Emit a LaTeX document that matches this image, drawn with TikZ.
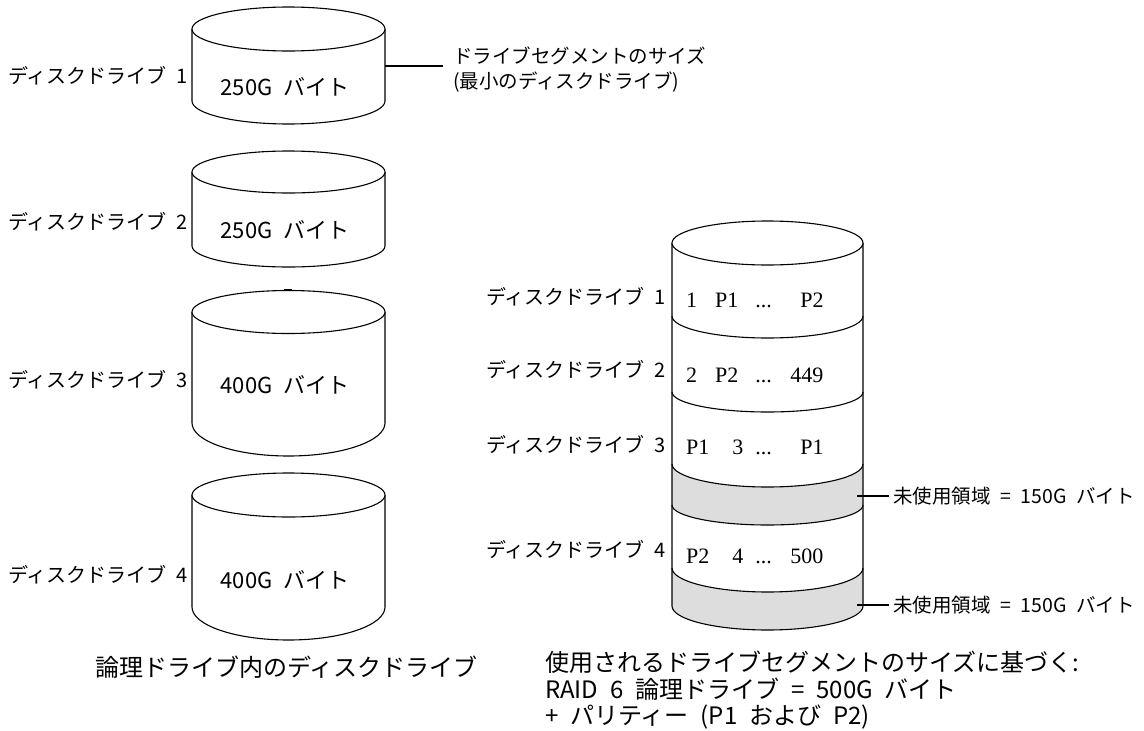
\documentclass[tikz,border=0pt]{standalone}
\usepackage{fontspec}
\setmainfont{Noto Sans CJK JP}[WordSpace=2.2]
\newfontfamily\segserif{Liberation Serif}
\definecolor{unusedgray}{RGB}{221,221,221}
\newcommand\drawcyl[6]{%
  \filldraw[cylline, fill=white] (#1-#2,#4) -- (#1-#2,#5)
     arc[start angle=180, end angle=0, x radius=#2, y radius=#6] -- (#1+#2,#4);
  \filldraw[cylline, fill=white] (#1,#4) ellipse[x radius=#2, y radius=#3];
}
\begin{document}
\begin{tikzpicture}[x=1pt, y=-1pt,
  cylline/.style={draw=black, line width=1.1pt},
  leader/.style={draw=black, line width=1.1pt},
  lbl/.style={font=\fontsize{20}{24}\selectfont, inner sep=0pt, anchor=east},
  ctext/.style={font=\fontsize{22}{26}\selectfont, inner sep=0pt},
  captext/.style={font=\fontsize{24}{26.5}\selectfont, inner sep=0pt, align=left},
  segtext/.style={font=\segserif\fontsize{22}{26}\selectfont, inner sep=0pt, anchor=west},
  notetext/.style={font=\fontsize{19.5}{25}\selectfont, inner ysep=0pt, anchor=west, align=left}
]
\useasboundingbox (0,0) rectangle (1144,731);

% ---------- left: four drives ----------
\drawcyl{288.5}{96.5}{22}{29}{101}{23}
\drawcyl{288.5}{96.5}{21}{172}{246}{21}
\drawcyl{288.5}{96.5}{21.5}{312}{423}{33}
\drawcyl{288.5}{96.5}{22}{495}{607}{33}
\draw[line width=1.6pt] (284,290) -- (292,290);

\node[ctext] (t1) at (285,87) {250G バイト};
\node[ctext] (t2) at (285,230) {250G バイト};
\node[ctext] (t3) at (285,385) {400G バイト};
\node[ctext] (t4) at (285,580) {400G バイト};

\node[lbl] (l1) at (188,76) {ディスクドライブ 1};
\node[lbl] (l2) at (188,222) {ディスクドライブ 2};
\node[lbl] (l3) at (188,380) {ディスクドライブ 3};
\node[lbl] (l4) at (188,575) {ディスクドライブ 4};

\coordinate (c1r) at (385,66);
\node[notetext, inner xsep=10pt] (segsize) at (443,69.5) {ドライブセグメントのサイズ\\(最小のディスクドライブ)};
\draw[leader] (c1r) -- (c1r -| segsize.west);

\node[captext] (capL) at (286.5,667) {論理ドライブ内のディスクドライブ};

% ---------- right: RAID 6 logical drive ----------
\filldraw[fill=white, draw=none] (672,243) -- (672,606)
   arc[start angle=180, end angle=0, x radius=95.5, y radius=24] -- (863,243) -- cycle;
\fill[unusedgray] (672,464) arc[start angle=180, end angle=0, x radius=95.5, y radius=23]
   -- (863,505) arc[start angle=0, end angle=180, x radius=95.5, y radius=20] -- cycle;
\fill[unusedgray] (672,568) arc[start angle=180, end angle=0, x radius=95.5, y radius=24]
   -- (863,606) arc[start angle=0, end angle=180, x radius=95.5, y radius=24] -- cycle;
\draw[cylline] (672,243) -- (672,606)
   arc[start angle=180, end angle=0, x radius=95.5, y radius=24] -- (863,243);
\draw[cylline] (672,316) arc[start angle=180, end angle=0, x radius=95.5, y radius=22];
\draw[cylline] (672,392) arc[start angle=180, end angle=0, x radius=95.5, y radius=20];
\draw[cylline] (672,464) arc[start angle=180, end angle=0, x radius=95.5, y radius=23];
\draw[cylline] (672,505) arc[start angle=180, end angle=0, x radius=95.5, y radius=20];
\draw[cylline] (672,568) arc[start angle=180, end angle=0, x radius=95.5, y radius=24];
\filldraw[cylline, fill=white] (767.5,243) ellipse[x radius=95.5, y radius=22];

\node[segtext] (s1) at (686,300) {1\hspace{18pt}P1\hspace{17pt}...\hspace{28.5pt}P2};
\node[segtext] (s2) at (686,375) {2\hspace{18pt}P2\hspace{17pt}...\hspace{18.5pt}449};
\node[segtext] (s3) at (686,447) {P1\hspace{23pt}3\hspace{12pt}...\hspace{28.5pt}P1};
\node[segtext] (s4) at (686,556) {P2\hspace{23pt}4\hspace{12pt}...\hspace{18.5pt}500};

\node[lbl] (r1) at (666,297) {ディスクドライブ 1};
\node[lbl] (r2) at (666,370) {ディスクドライブ 2};
\node[lbl] (r3) at (666,445) {ディスクドライブ 3};
\node[lbl] (r4) at (666,550) {ディスクドライブ 4};

\coordinate (u1) at (857,496);
\coordinate (u2) at (857,605);
\node[notetext, inner xsep=4pt] (un1) at (889,496) {未使用領域 = 150G バイト};
\node[notetext, inner xsep=4pt] (un2) at (889,605) {未使用領域 = 150G バイト};
\draw[leader] (u1) -- (un1.west);
\draw[leader] (u2) -- (un2.west);

\node[captext, anchor=west] (capR) at (545,690.5) {使用されるドライブセグメントのサイズに基づく:\\RAID 6 論理ドライブ = 500G バイト\\+ パリティー (P1 および P2)};
\end{tikzpicture}
\end{document}
